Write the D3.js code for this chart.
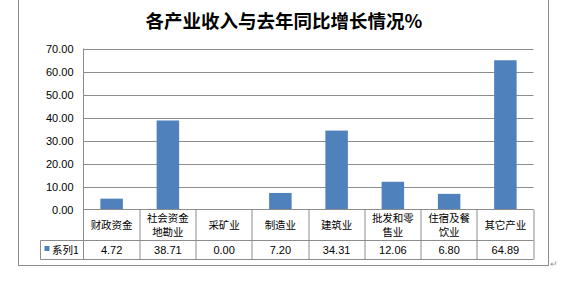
<!DOCTYPE html>
<html><head><meta charset="utf-8">
<script src="https://cdn.jsdelivr.net/npm/d3@7"></script>
<style>html,body{margin:0;padding:0;background:#fff;}</style>
</head><body>
<script>
const title = "各产业收入与去年同比增长情况%";
const categories = ["财政资金", "社会资金\n地勘业", "采矿业", "制造业", "建筑业", "批发和零\n售业", "住宿及餐\n饮业", "其它产业"];
const values = [4.72, 38.71, 0.00, 7.20, 34.31, 12.06, 6.80, 64.89];
const valueLabels = ["4.72", "38.71", "0.00", "7.20", "34.31", "12.06", "6.80", "64.89"];
const seriesName = "系列1";
const yTicks = [0, 10, 20, 30, 40, 50, 60, 70];

(function () {
const W = 579, H = 285;
const svg = d3.select("body").append("svg").attr("width", W).attr("height", H);
const font = "'Noto Sans CJK SC', 'Liberation Sans', sans-serif";
const gridColor = "#8c8c8c";
const barColor = "#4F81BD";

// outer frame
svg.append("rect").attr("x", 18.5).attr("y", -5).attr("width", 530).attr("height", 270.5)
  .attr("fill", "none").attr("stroke", "#8c8c8c").attr("stroke-width", 1);

const pLeft = 83.5, pRight = 533.5, pTop = 48.5, pBottom = 209.5;
const row1 = 240.5, row2 = 259.5, legendLeft = 40.5;

const x = d3.scaleBand().domain(d3.range(categories.length)).range([pLeft, pRight]).paddingInner(0).paddingOuter(0);
const y = d3.scaleLinear().domain([0, 70]).range([pBottom, pTop]);

// title
svg.append("text").attr("x", 284).attr("y", 28).attr("text-anchor", "middle")
  .attr("font-family", font).attr("font-weight", "bold").attr("font-size", 18.5).attr("fill", "#000")
  .text(title);

// gridlines
svg.append("g").selectAll("line").data(yTicks.filter(d => d > 0)).join("line")
  .attr("x1", pLeft).attr("x2", pRight)
  .attr("y1", d => Math.round(y(d)) + 0.5).attr("y2", d => Math.round(y(d)) + 0.5)
  .attr("stroke", gridColor);

// y axis labels
const yAxis = d3.axisLeft(y).tickValues(yTicks).tickFormat(d3.format(".2f")).tickSize(0).tickPadding(10);
const ga = svg.append("g").attr("transform", `translate(${pLeft},0)`).call(yAxis);
ga.select(".domain").remove();
ga.selectAll("text").attr("font-family", "'Liberation Sans', Arial, sans-serif").attr("font-size", 11).attr("fill", "#000");

// bars
const bw = x.bandwidth() * 0.4;
svg.append("g").selectAll("rect").data(values).join("rect")
  .attr("x", (d, i) => x(i) + (x.bandwidth() - bw) / 2)
  .attr("width", bw)
  .attr("y", d => y(d))
  .attr("height", d => y(0) - y(d))
  .attr("fill", barColor);

// table lines
const tl = svg.append("g").attr("stroke", gridColor).attr("fill", "none");
tl.append("line").attr("x1", pLeft).attr("x2", pRight).attr("y1", pBottom).attr("y2", pBottom);
tl.append("line").attr("x1", legendLeft).attr("x2", pRight).attr("y1", row1).attr("y2", row1);
tl.append("line").attr("x1", legendLeft).attr("x2", pRight).attr("y1", row2).attr("y2", row2);
tl.append("line").attr("x1", legendLeft).attr("x2", legendLeft).attr("y1", row1).attr("y2", row2);
tl.append("line").attr("x1", pLeft).attr("x2", pLeft).attr("y1", pTop).attr("y2", row2);
tl.selectAll(".col").data(d3.range(1, categories.length + 1)).join("line")
  .attr("x1", i => Math.round(pLeft + i * x.bandwidth()))
  .attr("x2", i => Math.round(pLeft + i * x.bandwidth()))
  .attr("y1", pBottom).attr("y2", row2);

// category labels
const cg = svg.append("g").attr("font-family", font).attr("font-size", 10.5).attr("fill", "#000").attr("text-anchor", "middle");
categories.forEach((c, i) => {
  const lines = c.split("\n");
  const cx = x(i) + x.bandwidth() / 2;
  const mid = (pBottom + row1) / 2;
  const lh = 14;
  lines.forEach((ln, k) => {
    cg.append("text").attr("x", cx)
      .attr("y", mid + (k - (lines.length - 1) / 2) * lh + 4)
      .text(ln);
  });
});

// values row
const vg = svg.append("g").attr("font-family", "'Liberation Sans', Arial, sans-serif").attr("font-size", 11).attr("fill", "#000").attr("text-anchor", "middle");
valueLabels.forEach((v, i) => {
  vg.append("text").attr("x", x(i) + x.bandwidth() / 2).attr("y", (row1 + row2) / 2 + 4).text(v);
});

// legend key
svg.append("rect").attr("x", 44.5).attr("y", 246).attr("width", 5).attr("height", 5).attr("fill", barColor);
svg.append("text").attr("x", 52).attr("y", (row1 + row2) / 2 + 4).attr("font-family", font).attr("font-size", 10.5).attr("fill", "#000").text(seriesName);

// paragraph mark
svg.append("text").attr("x", 550).attr("y", 267).attr("font-family", font).attr("font-size", 9).attr("fill", "#999").text("↵");
})();
</script>
</body></html>
